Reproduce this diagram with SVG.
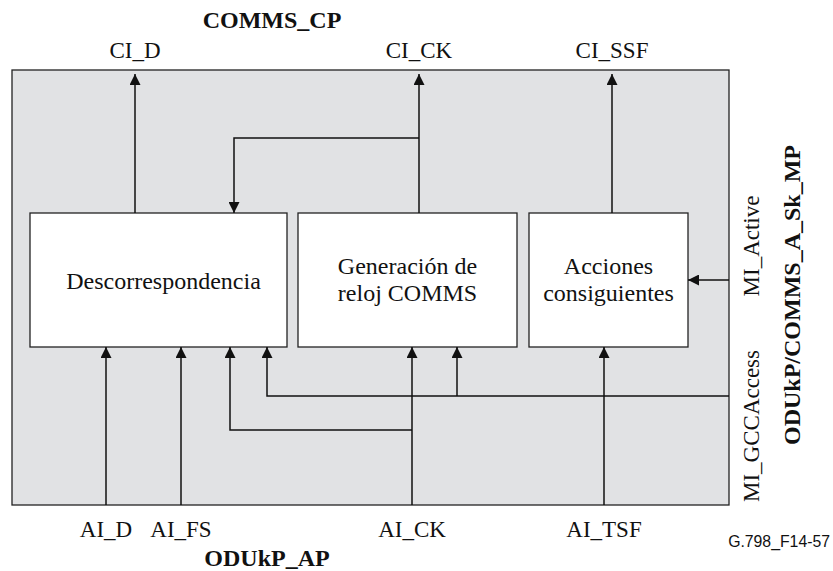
<svg xmlns="http://www.w3.org/2000/svg" width="833" height="571" viewBox="0 0 833 571">
<style>
.t{font-family:"Liberation Serif","Times New Roman",serif;font-size:23px;fill:#111;text-anchor:middle}
.l{font-size:24px}
.b{font-weight:bold;font-size:24px}
.s{font-family:"Liberation Sans",Arial,sans-serif;font-size:15.8px;fill:#111;text-anchor:end}
.box{fill:#fff;stroke:#222;stroke-width:1.3}
.c{fill:none;stroke:#111;stroke-width:1.5}
</style>
<defs>
<marker id="ah" viewBox="0 0 10 10" refX="10" refY="5" markerWidth="11" markerHeight="11" markerUnits="userSpaceOnUse" orient="auto">
<path d="M0,0 L10,5 L0,10 z" fill="#111"/>
</marker>
</defs>
<rect width="833" height="571" fill="#fff"/>
<g id="outer">
<rect x="12" y="70" width="717" height="435" fill="#e1e2e4" stroke="#222" stroke-width="1.3"/>
</g>
<g id="descorrespondencia">
<rect class="box" x="30" y="213" width="257" height="134"/>
<text class="t l" x="163.5" y="289">Descorrespondencia</text>
</g>
<g id="generacion">
<rect class="box" x="298" y="213" width="219" height="134"/>
<text class="t l" x="407.5" y="274">Generación de</text>
<text class="t l" x="407.5" y="301">reloj COMMS</text>
</g>
<g id="acciones">
<rect class="box" x="529" y="213" width="159" height="134"/>
<text class="t l" x="608.5" y="274">Acciones</text>
<text class="t l" x="608.5" y="301">consiguientes</text>
</g>
<g id="connectors">
<path class="c" d="M135,213 V74" marker-end="url(#ah)"/>
<path class="c" d="M419,213 V74" marker-end="url(#ah)"/>
<path class="c" d="M419,138 H234 V213" marker-end="url(#ah)"/>
<path class="c" d="M612,213 V74" marker-end="url(#ah)"/>
<path class="c" d="M729,280 H688" marker-end="url(#ah)"/>
<path class="c" d="M106,505 V347" marker-end="url(#ah)"/>
<path class="c" d="M181,505 V347" marker-end="url(#ah)"/>
<path class="c" d="M412,505 V347" marker-end="url(#ah)"/>
<path class="c" d="M412,430 H230 V347" marker-end="url(#ah)"/>
<path class="c" d="M729,396 H267 V347" marker-end="url(#ah)"/>
<path class="c" d="M457,396 V347" marker-end="url(#ah)"/>
<path class="c" d="M604,505 V347" marker-end="url(#ah)"/>
</g>
<g id="labels">
<text class="t b" x="272" y="28">COMMS_CP</text>
<text class="t" x="135" y="58">CI_D</text>
<text class="t" x="419" y="58">CI_CK</text>
<text class="t" x="612" y="58">CI_SSF</text>
<text class="t" x="106" y="537">AI_D</text>
<text class="t" x="181" y="537">AI_FS</text>
<text class="t" x="412" y="537">AI_CK</text>
<text class="t" x="604" y="537">AI_TSF</text>
<text class="t b" x="267" y="566">ODUkP_AP</text>
<text class="t" transform="translate(759,246) rotate(-90)">MI_Active</text>
<text class="t" transform="translate(759,426) rotate(-90)">MI_GCCAccess</text>
<text class="t b" transform="translate(800,295) rotate(-90)">ODUkP/COMMS_A_Sk_MP</text>
<text class="s" x="830" y="547">G.798_F14-57</text>
</g>
</svg>
